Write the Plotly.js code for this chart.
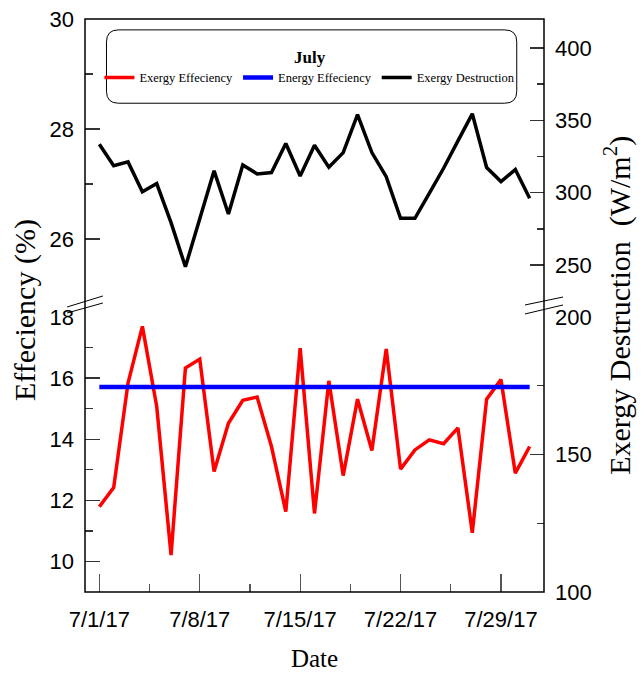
<!DOCTYPE html>
<html>
<head>
<meta charset="utf-8">
<script src="https://cdn.plot.ly/plotly-3.0.1.min.js"></script>
<style>html,body{margin:0;padding:0;background:#fff;}#chart{width:643px;height:673px;}</style>
</head>
<body>
<div id="chart"></div>
<script>
// ---- data ----
const dates = ['2017-07-01','2017-07-02','2017-07-03','2017-07-04','2017-07-05','2017-07-06','2017-07-07','2017-07-08','2017-07-09','2017-07-10','2017-07-11','2017-07-12','2017-07-13','2017-07-14','2017-07-15','2017-07-16','2017-07-17','2017-07-18','2017-07-19','2017-07-20','2017-07-21','2017-07-22','2017-07-23','2017-07-24','2017-07-25','2017-07-26','2017-07-27','2017-07-28','2017-07-29','2017-07-30','2017-07-31'];
const exergyEfficiency = [11.79,12.42,15.84,17.69,15.07,10.21,16.33,16.62,12.94,14.52,15.27,15.38,13.76,11.63,16.98,11.57,15.91,12.81,15.31,13.63,16.95,13.02,13.65,13.98,13.85,14.37,10.94,15.31,15.95,12.89,13.76];
const energyEfficiency = [15.71,15.71,15.71,15.71,15.71,15.71,15.71,15.71,15.71,15.71,15.71,15.71,15.71,15.71,15.71,15.71,15.71,15.71,15.71,15.71,15.71,15.71,15.71,15.71,15.71,15.71,15.71,15.71,15.71,15.71,15.71];
const exergyDestruction = [333.5,318.7,321.3,300.7,306.3,279.3,248.8,282.0,315.1,285.3,319.2,313.0,313.9,334.0,311.6,332.8,317.6,327.7,354.0,327.7,311.1,282.3,282.3,299.6,316.9,335.8,354.5,317.4,307.7,316.0,296.2];
const seriesNames = ['Exergy Effeciency','Energy Effeciency','Exergy Destruction'];
const xTicks = ['2017-07-01','2017-07-08','2017-07-15','2017-07-22','2017-07-29'];
const leftLowTicks = [10,12,14,16,18];
const leftHighTicks = [26,28,30];
const rightLowTicks = [100,150,200];
const rightHighTicks = [250,300,350,400];

const tickFont = {family:'"Liberation Sans",Arial,sans-serif', size:22, color:'#000'};
const serif = '"Liberation Serif","Times New Roman",serif';
const DAY = 86400000;

const traces = [
  {x:dates, y:exergyEfficiency, name:seriesNames[0], type:'scatter', mode:'lines', xaxis:'x', yaxis:'y', line:{color:'#ff0000', width:3.5}},
  {x:dates, y:energyEfficiency, name:seriesNames[1], type:'scatter', mode:'lines', xaxis:'x', yaxis:'y', line:{color:'#0000ff', width:4.5}},
  {x:dates, y:exergyDestruction, name:seriesNames[2], type:'scatter', mode:'lines', xaxis:'x', yaxis:'y4', line:{color:'#000000', width:3.5}},
  // empty carriers so the other broken-axis segments exist
  {x:[], y:[], type:'scatter', mode:'lines', xaxis:'x', yaxis:'y2', showlegend:false, hoverinfo:'skip'},
  {x:[], y:[], type:'scatter', mode:'lines', xaxis:'x', yaxis:'y3', showlegend:false, hoverinfo:'skip'}
];

const yCommon = {showgrid:false, zeroline:false, showline:false, ticks:'inside', ticklen:15, tickwidth:1.3, tickcolor:'#333',
  tickfont:tickFont, tickmode:'array', ticklabelstandoff:10, fixedrange:true, autorange:false};

const lowTop = 0.48, highBot = 0.52;

const layout = {
  width:643, height:673,
  margin:{l:85, r:99, t:19, b:81},
  paper_bgcolor:'#fff', plot_bgcolor:'#fff',
  showlegend:true,
  legend:{orientation:'h', x:0.49, xanchor:'center', y:0.962, yanchor:'top', bgcolor:'rgba(0,0,0,0)', borderwidth:0,
    font:{family:serif, size:12.5, color:'#000'}, itemwidth:30, traceorder:'normal',
    title:{text:'<b>July</b>', side:'top center', font:{family:serif, size:17, color:'#000'}}},
  xaxis:{type:'date', range:['2017-06-30','2017-08-01'], autorange:false, showgrid:false, zeroline:false, showline:false,
    tickmode:'array', tickvals:xTicks, tickformat:'%-m/%-d/%y', ticks:'inside', ticklen:18, tickwidth:1.3, tickcolor:'#555',
    tickfont:tickFont, ticklabelstandoff:12,
    minor:{tick0:'2017-07-01', dtick:3.5*DAY, ticks:'inside', ticklen:8, tickwidth:1.3, tickcolor:'#555', showgrid:false},
    title:{text:'Date', font:{family:serif, size:25, color:'#000'}, standoff:18}},
  yaxis: Object.assign({}, yCommon, {domain:[0, lowTop], range:[9, 18], tickvals:leftLowTicks, anchor:'x', side:'left',
    minor:{dtick:1, tick0:9, ticks:'inside', ticklen:8, tickwidth:1.3, tickcolor:'#333', showgrid:false}}),
  yaxis2: Object.assign({}, yCommon, {domain:[highBot, 1], range:[25, 30], tickvals:leftHighTicks, anchor:'x', side:'left',
    minor:{dtick:1, tick0:25, ticks:'inside', ticklen:8, tickwidth:1.3, tickcolor:'#333', showgrid:false}}),
  yaxis3: Object.assign({}, yCommon, {overlaying:'y', range:[100, 200], tickvals:rightLowTicks, anchor:'x', side:'right',
    ticklen:14, minor:{dtick:25, tick0:100, ticks:'inside', ticklen:7, tickwidth:1.3, tickcolor:'#333', showgrid:false}}),
  yaxis4: Object.assign({}, yCommon, {overlaying:'y2', range:[230, 420], tickvals:rightHighTicks, anchor:'x', side:'right',
    ticklen:14, minor:{dtick:25, tick0:225, ticks:'inside', ticklen:7, tickwidth:1.3, tickcolor:'#333', showgrid:false}}),
  shapes:[
    {type:'rect', xref:'paper', yref:'paper', x0:0, x1:1, y0:0, y1:1, line:{color:'#000', width:1.5}, fillcolor:'rgba(0,0,0,0)', layer:'above'},
    {type:'line', xref:'paper', yref:'paper', x0:-0.039, y0:0.4974, x1:0.039, y1:0.5166, line:{color:'#000', width:1}},
    {type:'line', xref:'paper', yref:'paper', x0:-0.039, y0:0.4869, x1:0.039, y1:0.5044, line:{color:'#000', width:1}},
    {type:'line', xref:'paper', yref:'paper', x0:0.9586, y0:0.5009, x1:1.0414, y1:0.5148, line:{color:'#000', width:1}},
    {type:'line', xref:'paper', yref:'paper', x0:0.9586, y0:0.4852, x1:1.0414, y1:0.5009, line:{color:'#000', width:1}},
    {type:'path', xref:'paper', yref:'paper', line:{color:'#000', width:1}, fillcolor:'rgba(0,0,0,0)',
     path:'M0.0730,0.981 L0.9145,0.981 Q0.9406,0.981 0.9406,0.960 L0.9406,0.874 Q0.9406,0.853 0.9145,0.853 L0.0730,0.853 Q0.0468,0.853 0.0468,0.874 L0.0468,0.960 Q0.0468,0.981 0.0730,0.981 Z'}
  ],
  annotations:[
    {text:'Effeciency (%)', xref:'paper', yref:'paper', x:-0.131, y:0.492, textangle:-90, showarrow:false,
     font:{family:serif, size:30, color:'#000'}, xanchor:'center', yanchor:'middle'},
    {text:'Exergy Destruction  (W/m<sup>2</sup>)', xref:'paper', yref:'paper', x:1.161, y:0.501, textangle:-90, showarrow:false,
     font:{family:serif, size:30, color:'#000'}, xanchor:'center', yanchor:'middle'}
  ]
};

Plotly.newPlot('chart', traces, layout, {displayModeBar:false, staticPlot:true});
</script>
</body>
</html>
